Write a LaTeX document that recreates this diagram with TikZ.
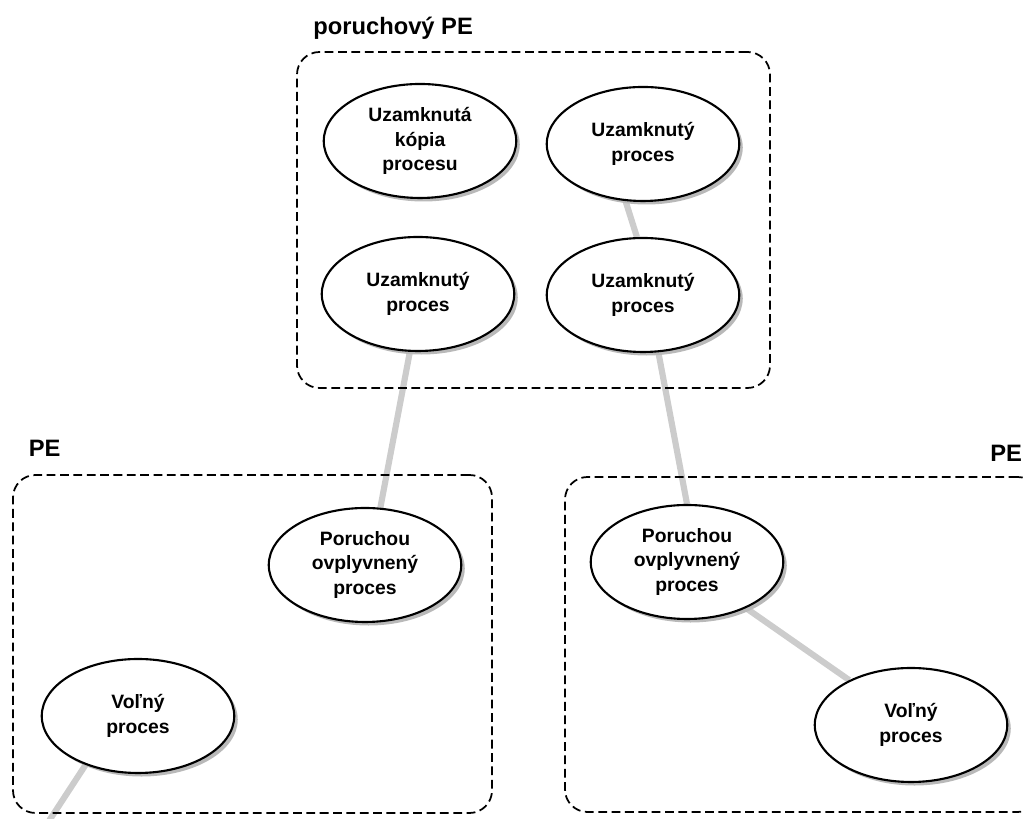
\documentclass[tikz,border=0pt]{standalone}
\usepackage{fontspec}
\setmainfont{Liberation Sans}
\usetikzlibrary{positioning, shapes.geometric, shadows, backgrounds}

\begin{document}
\begin{tikzpicture}[
    proc/.style={draw, ellipse, line width=1.2pt, fill=white, minimum width=3.85cm, minimum height=2.28cm, inner sep=0pt, align=center,
        font=\fontsize{11}{14}\selectfont\bfseries,
        drop shadow={shadow xshift=2pt, shadow yshift=-2pt, fill=gray!55, opacity=1}},
    pebox/.style={draw, dash pattern=on 5pt off 2.6pt, line width=1pt, rounded corners=0.45cm, inner sep=0pt},
    pelabel/.style={font=\fontsize{13.5}{16}\selectfont\bfseries, anchor=base west, inner sep=0pt},
    link/.style={line width=3.5pt, draw=gray!40}]
    \useasboundingbox (0,0) rectangle (20.5,16.38);

    % processing elements
    \node[pebox, minimum width=9.46cm, minimum height=6.72cm] (faulty) at (10.67,11.98) {};
    \node[pebox, minimum width=9.58cm, minimum height=6.76cm] (peleft) at (5.05,3.50) {};
    \node[pebox, minimum width=9.50cm, minimum height=6.70cm] (peright) at (16.05,3.49) {};
    \node[pelabel] (faultylabel) at (6.26,15.68) {poruchový PE};
    \node[pelabel] (leftlabel) at (0.57,7.24) {PE};
    \node[pelabel] (rightlabel) at (19.80,7.14) {PE};

    % processes
    \node[proc] (copy) at (8.40,13.56) {Uzamknutá\\kópia\\procesu};
    \node[proc] (locktr) at (12.86,13.50) {Uzamknutý\\proces};
    \node[proc] (lockbl) at (8.36,10.50) {Uzamknutý\\proces};
    \node[proc] (lockbr) at (12.86,10.48) {Uzamknutý\\proces};
    \node[proc] (affleft) at (7.30,5.08) {Poruchou\\ovplyvnený\\proces};
    \node[proc] (freeleft) at (2.76,2.06) {Voľný\\proces};
    \node[proc] (affright) at (13.74,5.14) {Poruchou\\ovplyvnený\\proces};
    \node[proc] (freeright) at (18.22,1.88) {Voľný\\proces};
    \coordinate (exit) at (0.94,-0.1);

    % links
    \begin{scope}[on background layer]
        \draw[link] (locktr.-107) -- (lockbr.96);
        \draw[link] (lockbl.-98) -- (affleft.75);
        \draw[link] (lockbr.-75) -- (affright.90);
        \draw[link] (affright.-38) -- (freeright.144);
        \draw[link] (freeleft.-137) -- (exit);
    \end{scope}
\end{tikzpicture}
\end{document}
